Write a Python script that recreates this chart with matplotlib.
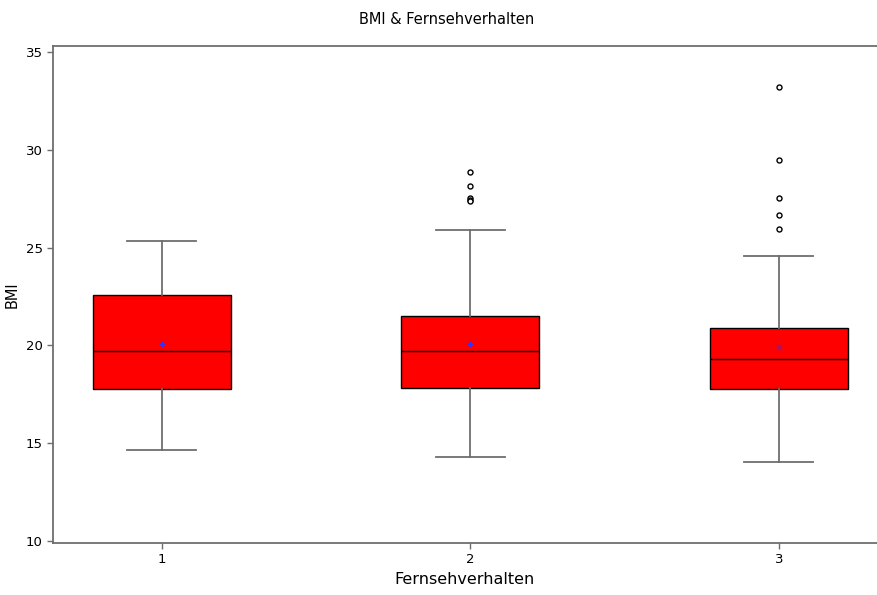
import matplotlib
matplotlib.use("Agg")
import matplotlib.pyplot as plt

# Werte
gruppen = [1, 2, 3]
median = [19.7, 19.7, 19.3]
mittel = [20.07, 20.07, 19.93]
q1 = [17.77, 17.82, 17.75]
q3 = [22.58, 21.50, 20.87]
whisker_unten = [14.65, 14.29, 14.05]
whisker_oben = [25.34, 25.90, 24.57]
ausreisser = [
    [],
    [28.87, 28.15, 27.54, 27.43, 27.38],
    [33.19, 29.48, 27.55, 26.67, 25.95],
]

stats = []
for i in range(len(gruppen)):
    stats.append(dict(med=median[i], q1=q1[i], q3=q3[i],
                      whislo=whisker_unten[i], whishi=whisker_oben[i],
                      fliers=ausreisser[i], mean=mittel[i]))

plt.rcParams['font.family'] = ['DejaVu Sans']

fig = plt.figure(figsize=(8.77, 5.95), dpi=100)
ax = fig.add_axes([0.0604, 0.0874, 0.9396, 0.8353])

grau = '#6e6e6e'
ax.bxp(stats, positions=gruppen, widths=0.447, showmeans=True, patch_artist=True,
       boxprops=dict(facecolor='#ff0000', edgecolor='black', linewidth=1.0),
       medianprops=dict(color='black', linewidth=1.0),
       whiskerprops=dict(color=grau, linewidth=1.3),
       capprops=dict(color=grau, linewidth=1.3),
       meanprops=dict(marker='+', markeredgecolor='#3030ff', markersize=5, markeredgewidth=1),
       flierprops=dict(marker='o', markerfacecolor='white', markeredgecolor='black',
                       markersize=3.6, markeredgewidth=1))

ax.set_xlim(0.647, 3.318)
ax.set_ylim(9.9, 35.3)
ax.set_yticks([10, 15, 20, 25, 30, 35])
ax.set_xticks(gruppen)
ax.set_xticklabels([str(g) for g in gruppen])

for s in ['left', 'top', 'bottom']:
    ax.spines[s].set_color(grau)
    ax.spines[s].set_linewidth(1.3)
ax.spines['right'].set_visible(False)
ax.tick_params(colors=grau, labelcolor='black', labelsize=9.5, length=4, width=1)

ax.set_xlabel('Fernsehverhalten', fontsize=11.5, labelpad=4)
ax.set_ylabel('BMI', fontsize=10.5, labelpad=4)
fig.suptitle('BMI & Fernsehverhalten', x=0.509, y=0.98, fontsize=10.5)

fig.savefig('out.png', dpi=100)
